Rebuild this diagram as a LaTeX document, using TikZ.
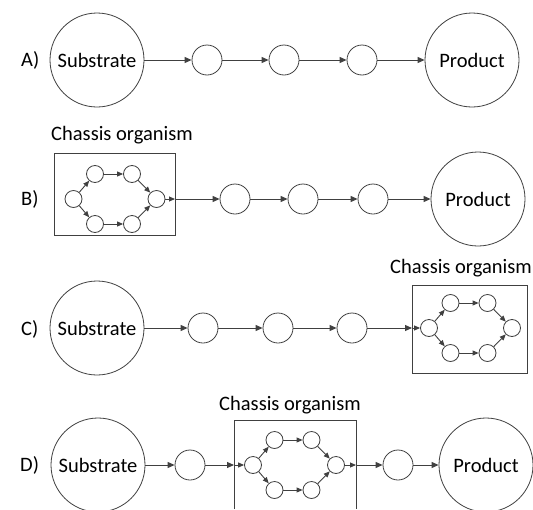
\documentclass[tikz,border=0pt]{standalone}
\usepackage{fontspec}
\setmainfont{Carlito}
\usetikzlibrary{arrows.meta}
\definecolor{ln}{HTML}{404040}
\newcommand{\innernet}[3]{%
  \node[tinyc] (#3l)  at ({#1},{#2}) {};
  \node[tinyc] (#3t1) at ({#1+21.5},{#2-25}) {};
  \node[tinyc] (#3t2) at ({#1+58.5},{#2-25}) {};
  \node[tinyc] (#3b1) at ({#1+21.5},{#2+25}) {};
  \node[tinyc] (#3b2) at ({#1+58.5},{#2+25}) {};
  \node[tinyc] (#3r)  at ({#1+83},{#2}) {};
  \draw[sarr] (#3l) -- (#3t1);
  \draw[sarr] (#3t1) -- (#3t2);
  \draw[sarr] (#3t2) -- (#3r);
  \draw[sarr] (#3l) -- (#3b1);
  \draw[sarr] (#3b1) -- (#3b2);
  \draw[sarr] (#3b2) -- (#3r);
}
\begin{document}
\begin{tikzpicture}[x=1pt,y=-1pt,
  every node/.style={font=\fontsize{20.5}{24}\selectfont, text=black},
  bigc/.style={circle,draw=ln,line width=0.8pt,minimum size=94pt,inner sep=0pt},
  midc/.style={circle,draw=ln,line width=0.8pt,minimum size=30pt,inner sep=0pt},
  tinyc/.style={circle,draw=ln,line width=0.8pt,minimum size=17pt,inner sep=0pt},
  arr/.style={draw=ln,line width=1pt,-{Triangle[length=7pt,width=6pt]}},
  sarr/.style={draw=ln,line width=0.9pt,-{Triangle[length=6pt,width=5pt]}},
  chassisbox/.style={draw=ln,line width=0.8pt},
  rowlabel/.style={anchor=west,inner sep=0pt}]
\useasboundingbox (0,0) rectangle (533,509);

% ---------- Row A ----------
\node[rowlabel] (labA) at (21,60) {A)};
\node[bigc] (As) at (97,60) {Substrate};
\node[midc] (A1) at (207,60) {};
\node[midc] (A2) at (284,60) {};
\node[midc] (A3) at (362,60) {};
\node[bigc] (Ap) at (472,60) {Product};
\draw[arr] (As) -- (A1);
\draw[arr] (A1) -- (A2);
\draw[arr] (A2) -- (A3);
\draw[arr] (A3) -- (Ap);

% ---------- Row B ----------
\node[rowlabel] (labB) at (21,199) {B)};
\node (chB) at (122,135) {Chassis organism};
\draw[chassisbox] (54,153) rectangle (175,235);
\innernet{73.5}{199}{Bi}
\coordinate (bR) at (175,199);
\node[midc] (B1) at (235,199) {};
\node[midc] (B2) at (303,199) {};
\node[midc] (B3) at (373,199) {};
\node[bigc] (Bp) at (478,199) {Product};
\draw[sarr] (Bir) -- (bR);
\draw[arr] (bR) -- (B1);
\draw[arr] (B1) -- (B2);
\draw[arr] (B2) -- (B3);
\draw[arr] (B3) -- (Bp);

% ---------- Row C ----------
\node[rowlabel] (labC) at (21,329) {C)};
\node[bigc] (Cs) at (97,328) {Substrate};
\node[midc] (C1) at (203,328) {};
\node[midc] (C2) at (278,328) {};
\node[midc] (C3) at (352,328) {};
\node (chC) at (461,268) {Chassis organism};
\draw[chassisbox] (412,285) rectangle (527,373);
\coordinate (cL) at (412,328);
\innernet{429}{328}{Ci}
\draw[arr] (Cs) -- (C1);
\draw[arr] (C1) -- (C2);
\draw[arr] (C2) -- (C3);
\draw[arr] (C3) -- (cL);
\draw[sarr] (cL) -- (Cil);

% ---------- Row D ----------
\node[rowlabel] (labD) at (20,465) {D)};
\node[bigc] (Ds) at (98,465) {Substrate};
\node[midc] (D1) at (190,465) {};
\node (chD) at (290,405) {Chassis organism};
\draw[chassisbox] (234,509) -- (234,420) -- (356,420) -- (356,509);
\coordinate (dL) at (234,465);
\coordinate (dR) at (356,465);
\innernet{253}{465}{Di}
\node[midc] (D2) at (398,465) {};
\node[bigc] (Dp) at (486,465) {Product};
\draw[arr] (Ds) -- (D1);
\draw[arr] (D1) -- (dL);
\draw[sarr] (dL) -- (Dil);
\draw[sarr] (Dir) -- (dR);
\draw[arr] (dR) -- (D2);
\draw[arr] (D2) -- (Dp);
\end{tikzpicture}
\end{document}
